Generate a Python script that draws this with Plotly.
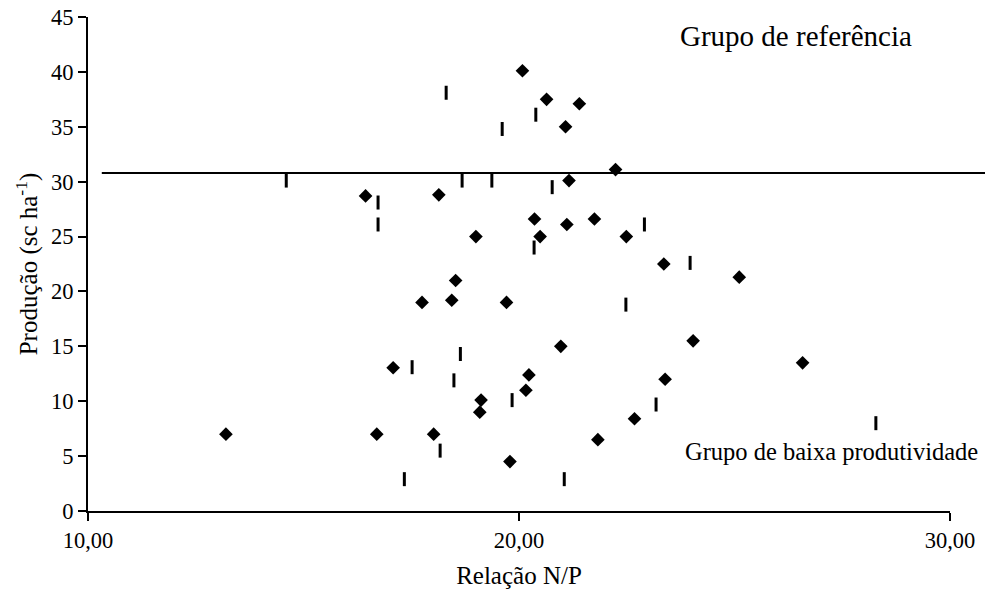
import plotly.graph_objects as go

# Grupo (diamantes)
diam_x = [13.20, 16.44, 16.70, 17.08, 17.75, 18.02, 18.14, 18.44, 18.53, 19.00,
          19.09, 19.12, 19.71, 19.79, 20.08, 20.16, 20.23, 20.36, 20.49, 20.64,
          20.97, 21.08, 21.11, 21.16, 21.40, 21.75, 21.83, 22.24, 22.49, 22.68,
          23.36, 23.39, 24.04, 25.11, 26.58]
diam_y = [7.0, 28.7, 7.0, 13.05, 19.0, 7.0, 28.8, 19.2, 21.0, 25.0,
          9.0, 10.1, 19.0, 4.5, 40.1, 11.0, 12.4, 26.6, 25.0, 37.5,
          15.0, 35.0, 26.1, 30.1, 37.1, 26.6, 6.5, 31.1, 25.0, 8.4,
          22.5, 12.0, 15.5, 21.3, 13.5]

# Grupo (traços verticais)
bar_x = [14.60, 16.73, 16.73, 17.34, 17.52, 18.17, 18.31, 18.49, 18.64, 18.68,
         19.37, 19.61, 19.84, 20.35, 20.39, 20.77, 21.05, 22.48, 22.91, 23.18,
         23.97, 28.28]
bar_y = [30.1, 28.1, 26.1, 2.9, 13.1, 5.5, 38.1, 11.9, 14.3, 30.1,
         30.1, 34.8, 10.1, 24.0, 36.1, 29.5, 2.9, 18.8, 26.1, 9.7,
         22.6, 8.0]

ref_level = 30.8
x_ticks = [10, 20, 30]
y_ticks = [0, 5, 10, 15, 20, 25, 30, 35, 40, 45]

FONT = "Liberation Serif"

fig = go.Figure()
fig.add_trace(go.Scatter(
    x=diam_x, y=diam_y, mode="markers",
    marker=dict(symbol="diamond", size=10.5, color="black", line=dict(width=0)),
    cliponaxis=False, showlegend=False))
fig.add_trace(go.Scatter(
    x=bar_x, y=bar_y, mode="markers",
    marker=dict(symbol="line-ns", size=10, color="black",
                line=dict(width=3, color="black")),
    cliponaxis=False, showlegend=False))

fig.add_shape(type="line", xref="paper", yref="y",
              x0=0.016, x1=1.041, y0=ref_level, y1=ref_level,
              line=dict(color="black", width=2))

fig.add_annotation(x=26.43, y=43.25, xref="x", yref="y", text="Grupo de referência",
                   showarrow=False, font=dict(family=FONT, size=29, color="black"))
fig.add_annotation(x=27.24, y=5.4, xref="x", yref="y", text="Grupo de baixa produtividade",
                   showarrow=False, font=dict(family=FONT, size=24.5, color="black"))

fig.update_layout(
    width=985, height=595,
    margin=dict(l=88, r=35, t=17, b=84, autoexpand=False),
    paper_bgcolor="white", plot_bgcolor="white",
    separators=",.",
    font=dict(family=FONT, color="black"),
    xaxis=dict(range=[10, 30], tickvals=x_ticks, tickformat=".2f",
               automargin=False,
               showline=True, linecolor="black", linewidth=2,
               ticks="outside", ticklen=8, tickwidth=2, tickcolor="black",
               showgrid=False, zeroline=False,
               tickfont=dict(family=FONT, size=22.5),
               title=dict(text="Relação N/P", font=dict(family=FONT, size=25), standoff=14)),
    yaxis=dict(range=[0, 45], tickvals=y_ticks,
               automargin=False,
               showline=True, linecolor="black", linewidth=2,
               ticks="outside", ticklen=8, tickwidth=2, tickcolor="black",
               showgrid=False, zeroline=False,
               tickfont=dict(family=FONT, size=22.5),
               title=dict(text="Produção (sc ha<sup>-1</sup>)", font=dict(family=FONT, size=25), standoff=6)),
)

fig.write_html("out.html", config={"displayModeBar": False},
               post_script="document.body.style.margin='0px';")
